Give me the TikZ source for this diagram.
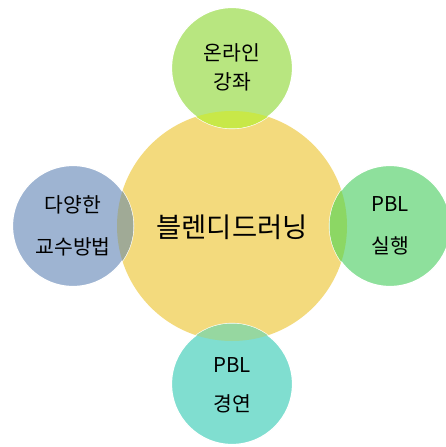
\documentclass[tikz,border=0pt]{standalone}
\usepackage{fontspec}
\newfontfamily\kr{Noto Sans CJK KR}
\definecolor{vang}{RGB}{243,218,125}
\definecolor{xanhla}{RGB}{184,230,128}
\definecolor{xam}{RGB}{158,180,210}
\definecolor{xanhnhat}{RGB}{142,224,156}
\definecolor{ngoc}{RGB}{128,222,208}
\definecolor{giaotren}{RGB}{200,232,72}
\definecolor{giaotrai}{RGB}{160,170,150}
\definecolor{giaophai}{RGB}{140,215,100}
\definecolor{giaoduoi}{RGB}{150,215,160}
\begin{document}
\begin{tikzpicture}[x=1bp, y=-1bp, font=\kr, line join=round,
	vong/.style={circle, minimum size=121bp, inner sep=0pt, draw=white, line width=1.2bp},
	chu/.style={font=\kr\fontsize{20.5}{22}\selectfont, align=center}]
	\def\R{115} % bán kính vòng lớn
	\def\r{60.5} % bán kính vòng nhỏ
	\useasboundingbox (0,0) rectangle (446,447);
	\node[circle, minimum size=2*\R*1bp, inner sep=0pt, fill=vang] (giua) at (232,226) {};
	\node[vong, fill=xanhla] (tren) at (232,68) {};
	\node[vong, fill=xam] (trai) at (73,226) {};
	\node[vong, fill=xanhnhat] (phai) at (390,226) {};
	\node[vong, fill=ngoc] (duoi) at (232,384) {};
	% phần giao nhau
	\begin{scope}
	\clip (giua.center) circle (\R);
	\fill[giaotren] (tren.center) circle (\r);
	\fill[giaotrai] (trai.center) circle (\r);
	\fill[giaophai] (phai.center) circle (\r);
	\fill[giaoduoi] (duoi.center) circle (\r);
	\end{scope}
	\path 
	(232,227) node[font=\kr\fontsize{27.5}{30}\selectfont] (ten) {블렌디드러닝}
	(232,67) node[chu] (tren chu) {온라인\\[7bp]강좌}
	(73,226) node[chu] (trai chu) {다양한\\[20bp]교수방법}
	(390,226) node[chu] (phai chu) {PBL\\[20bp]실행}
	(232,385) node[chu] (duoi chu) {PBL\\[17bp]경연};
\end{tikzpicture}
\end{document}
